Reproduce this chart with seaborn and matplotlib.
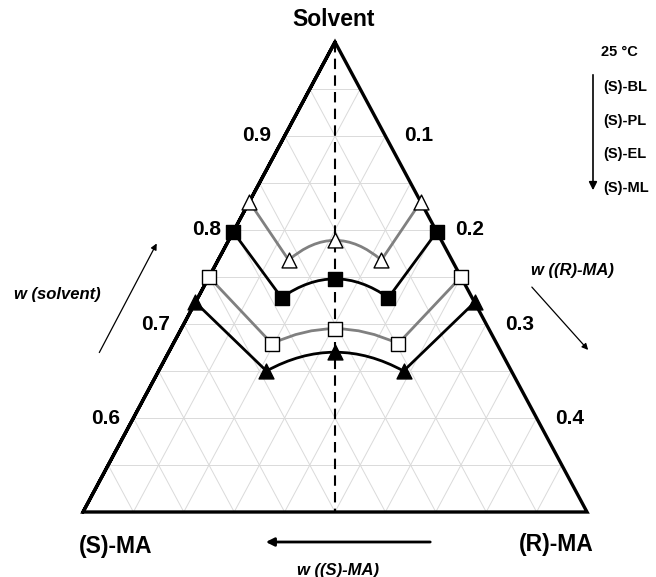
import numpy as np
import pandas as pd
import matplotlib
matplotlib.use("Agg")
import matplotlib.pyplot as plt
from matplotlib.path import Path
from matplotlib.patches import PathPatch
import seaborn as sns

# Phase-diagram data: mass fractions of solvent and (R)-MA for each solvent system
series = ["(S)-BL", "(S)-PL", "(S)-EL", "(S)-ML"]
w_solvent_BL = [0.830, 0.768, 0.789, 0.768, 0.830]
w_rma_BL = [0.000, 0.070, 0.1055, 0.162, 0.170]
w_solvent_PL = [0.798, 0.728, 0.748, 0.728, 0.798]
w_rma_PL = [0.000, 0.083, 0.126, 0.189, 0.202]
w_solvent_EL = [0.750, 0.679, 0.695, 0.679, 0.750]
w_rma_EL = [0.000, 0.098, 0.1525, 0.223, 0.250]
w_solvent_ML = [0.723, 0.650, 0.670, 0.650, 0.723]
w_rma_ML = [0.000, 0.107, 0.165, 0.243, 0.277]

left_ticks = [0.9, 0.8, 0.7, 0.6]
right_ticks = [0.1, 0.2, 0.3, 0.4]

sns.set_theme(style="white")
plt.rcParams["font.family"] = ["Liberation Sans", "DejaVu Sans"]

W, H = 656, 577
fig = plt.figure(figsize=(W / 100, H / 100), dpi=100)
ax = fig.add_axes([0, 0, 1, 1])
ax.set_xlim(-335 / 1008, 321 / 1008)
ax.set_ylim(1 - 535 / 940, 1 + 42 / 940)
ax.axis("off")


def to_xy(s, r):
    s = np.asarray(s, float)
    r = np.asarray(r, float)
    return r + (s - 1) / 2, s


def px(x, y):
    return x / W, 1 - y / H


# light grid every 0.05
grid_kw = dict(color="#dadada", lw=0.7, zorder=1)
for k in range(1, 10):
    s = 0.5 + 0.05 * k
    ax.plot([-(1 - s) / 2, (1 - s) / 2], [s, s], **grid_kw)
    c = 0.05 * k
    ax.plot([c / 2, c - 0.25], [1 - c, 0.5], **grid_kw)
    ax.plot([-c / 2, 0.25 - c], [1 - c, 0.5], **grid_kw)

# triangle outline and symmetry line
ax.plot([-0.25, 0, 0.25, -0.25, 0], [0.5, 1, 0.5, 0.5, 1], color="black", lw=2.4,
        solid_joinstyle="miter", zorder=3)
ax.plot([0, 0], [1, 0.5], color="black", lw=1.5, ls=(0, (5, 3)), zorder=3)

styles = {
    "(S)-BL": dict(line="#808080", marker="^", face="white", size=115),
    "(S)-PL": dict(line="black", marker="s", face="black", size=105),
    "(S)-EL": dict(line="#808080", marker="s", face="white", size=105),
    "(S)-ML": dict(line="black", marker="^", face="black", size=115),
}
data = {
    "(S)-BL": (w_solvent_BL, w_rma_BL),
    "(S)-PL": (w_solvent_PL, w_rma_PL),
    "(S)-EL": (w_solvent_EL, w_rma_EL),
    "(S)-ML": (w_solvent_ML, w_rma_ML),
}

for name in series:
    st = styles[name]
    x, y = to_xy(*data[name])
    df = pd.DataFrame({"x": x, "y": y})
    # straight tie segments from each edge to the inner points
    for seg in (df.iloc[[0, 1]], df.iloc[[3, 4]]):
        sns.lineplot(data=seg, x="x", y="y", sort=False, estimator=None,
                     color=st["line"], lw=2, ax=ax, zorder=4)
    # smooth arc through the inner points and the centre point
    p0, c, p2 = np.array([x[1], y[1]]), np.array([x[2], y[2]]), np.array([x[3], y[3]])
    ctrl = 2 * c - (p0 + p2) / 2
    path = Path([p0, ctrl, p2], [Path.MOVETO, Path.CURVE3, Path.CURVE3])
    ax.add_patch(PathPatch(path, fill=False, edgecolor=st["line"], lw=2, zorder=4))
    sns.scatterplot(data=df, x="x", y="y", marker=st["marker"], s=st["size"],
                    color=st["face"], edgecolor="black", linewidth=1.0, ax=ax,
                    zorder=5, legend=False)

ax.set_xlabel("")
ax.set_ylabel("")

bold = dict(fontweight="bold", color="black")

# edge tick labels
for t in left_ticks:
    ax.annotate(f"{t:.1f}", xy=(-(1 - t) / 2, t), xytext=(-20, 0),
                textcoords="offset points", ha="center", va="center", fontsize=15, **bold)
for t in right_ticks:
    ax.annotate(f"{t:.1f}", xy=(t / 2, 1 - t), xytext=(24, 0),
                textcoords="offset points", ha="center", va="center", fontsize=15, **bold)

# vertex labels
ax.text(*px(334, 19), "Solvent", transform=ax.transAxes, ha="center", va="center",
        fontsize=16.5, **bold)
ax.text(*px(116, 547), "(S)-MA", transform=ax.transAxes, ha="center", va="center",
        fontsize=16.5, **bold)
ax.text(*px(556, 545), "(R)-MA", transform=ax.transAxes, ha="center", va="center",
        fontsize=16.5, **bold)

# composition direction arrows
arrow_thin = dict(arrowstyle="-|>", color="black", lw=0.9, mutation_scale=9)
ax.annotate("", xy=px(158, 241), xytext=px(98, 355), xycoords="axes fraction",
            textcoords="axes fraction", arrowprops=arrow_thin)
ax.text(*px(57, 295), "w (solvent)", transform=ax.transAxes, ha="center", va="center",
        fontsize=12, fontstyle="italic", **bold)
ax.annotate("", xy=px(590, 352), xytext=px(530, 285), xycoords="axes fraction",
            textcoords="axes fraction", arrowprops=arrow_thin)
ax.text(*px(572, 270), "w ((R)-MA)", transform=ax.transAxes, ha="center", va="center",
        fontsize=12, fontstyle="italic", **bold)
ax.annotate("", xy=px(263, 542), xytext=px(433, 542), xycoords="axes fraction",
            textcoords="axes fraction",
            arrowprops=dict(arrowstyle="-|>", color="black", lw=2, mutation_scale=12))
ax.text(*px(338, 570), "w ((S)-MA)", transform=ax.transAxes, ha="center", va="center",
        fontsize=12, fontstyle="italic", **bold)

# series order key
ax.text(*px(601, 52), "25 °C", transform=ax.transAxes, ha="left", va="center",
        fontsize=10.5, **bold)
for i, name in enumerate(series):
    ax.text(*px(603, 87 + 33.7 * i), name, transform=ax.transAxes, ha="left",
            va="center", fontsize=10.5, **bold)
ax.annotate("", xy=px(593, 193), xytext=px(593, 72), xycoords="axes fraction",
            textcoords="axes fraction",
            arrowprops=dict(arrowstyle="-|>", color="black", lw=1.2, mutation_scale=12))

fig.savefig("out.png", dpi=100)
